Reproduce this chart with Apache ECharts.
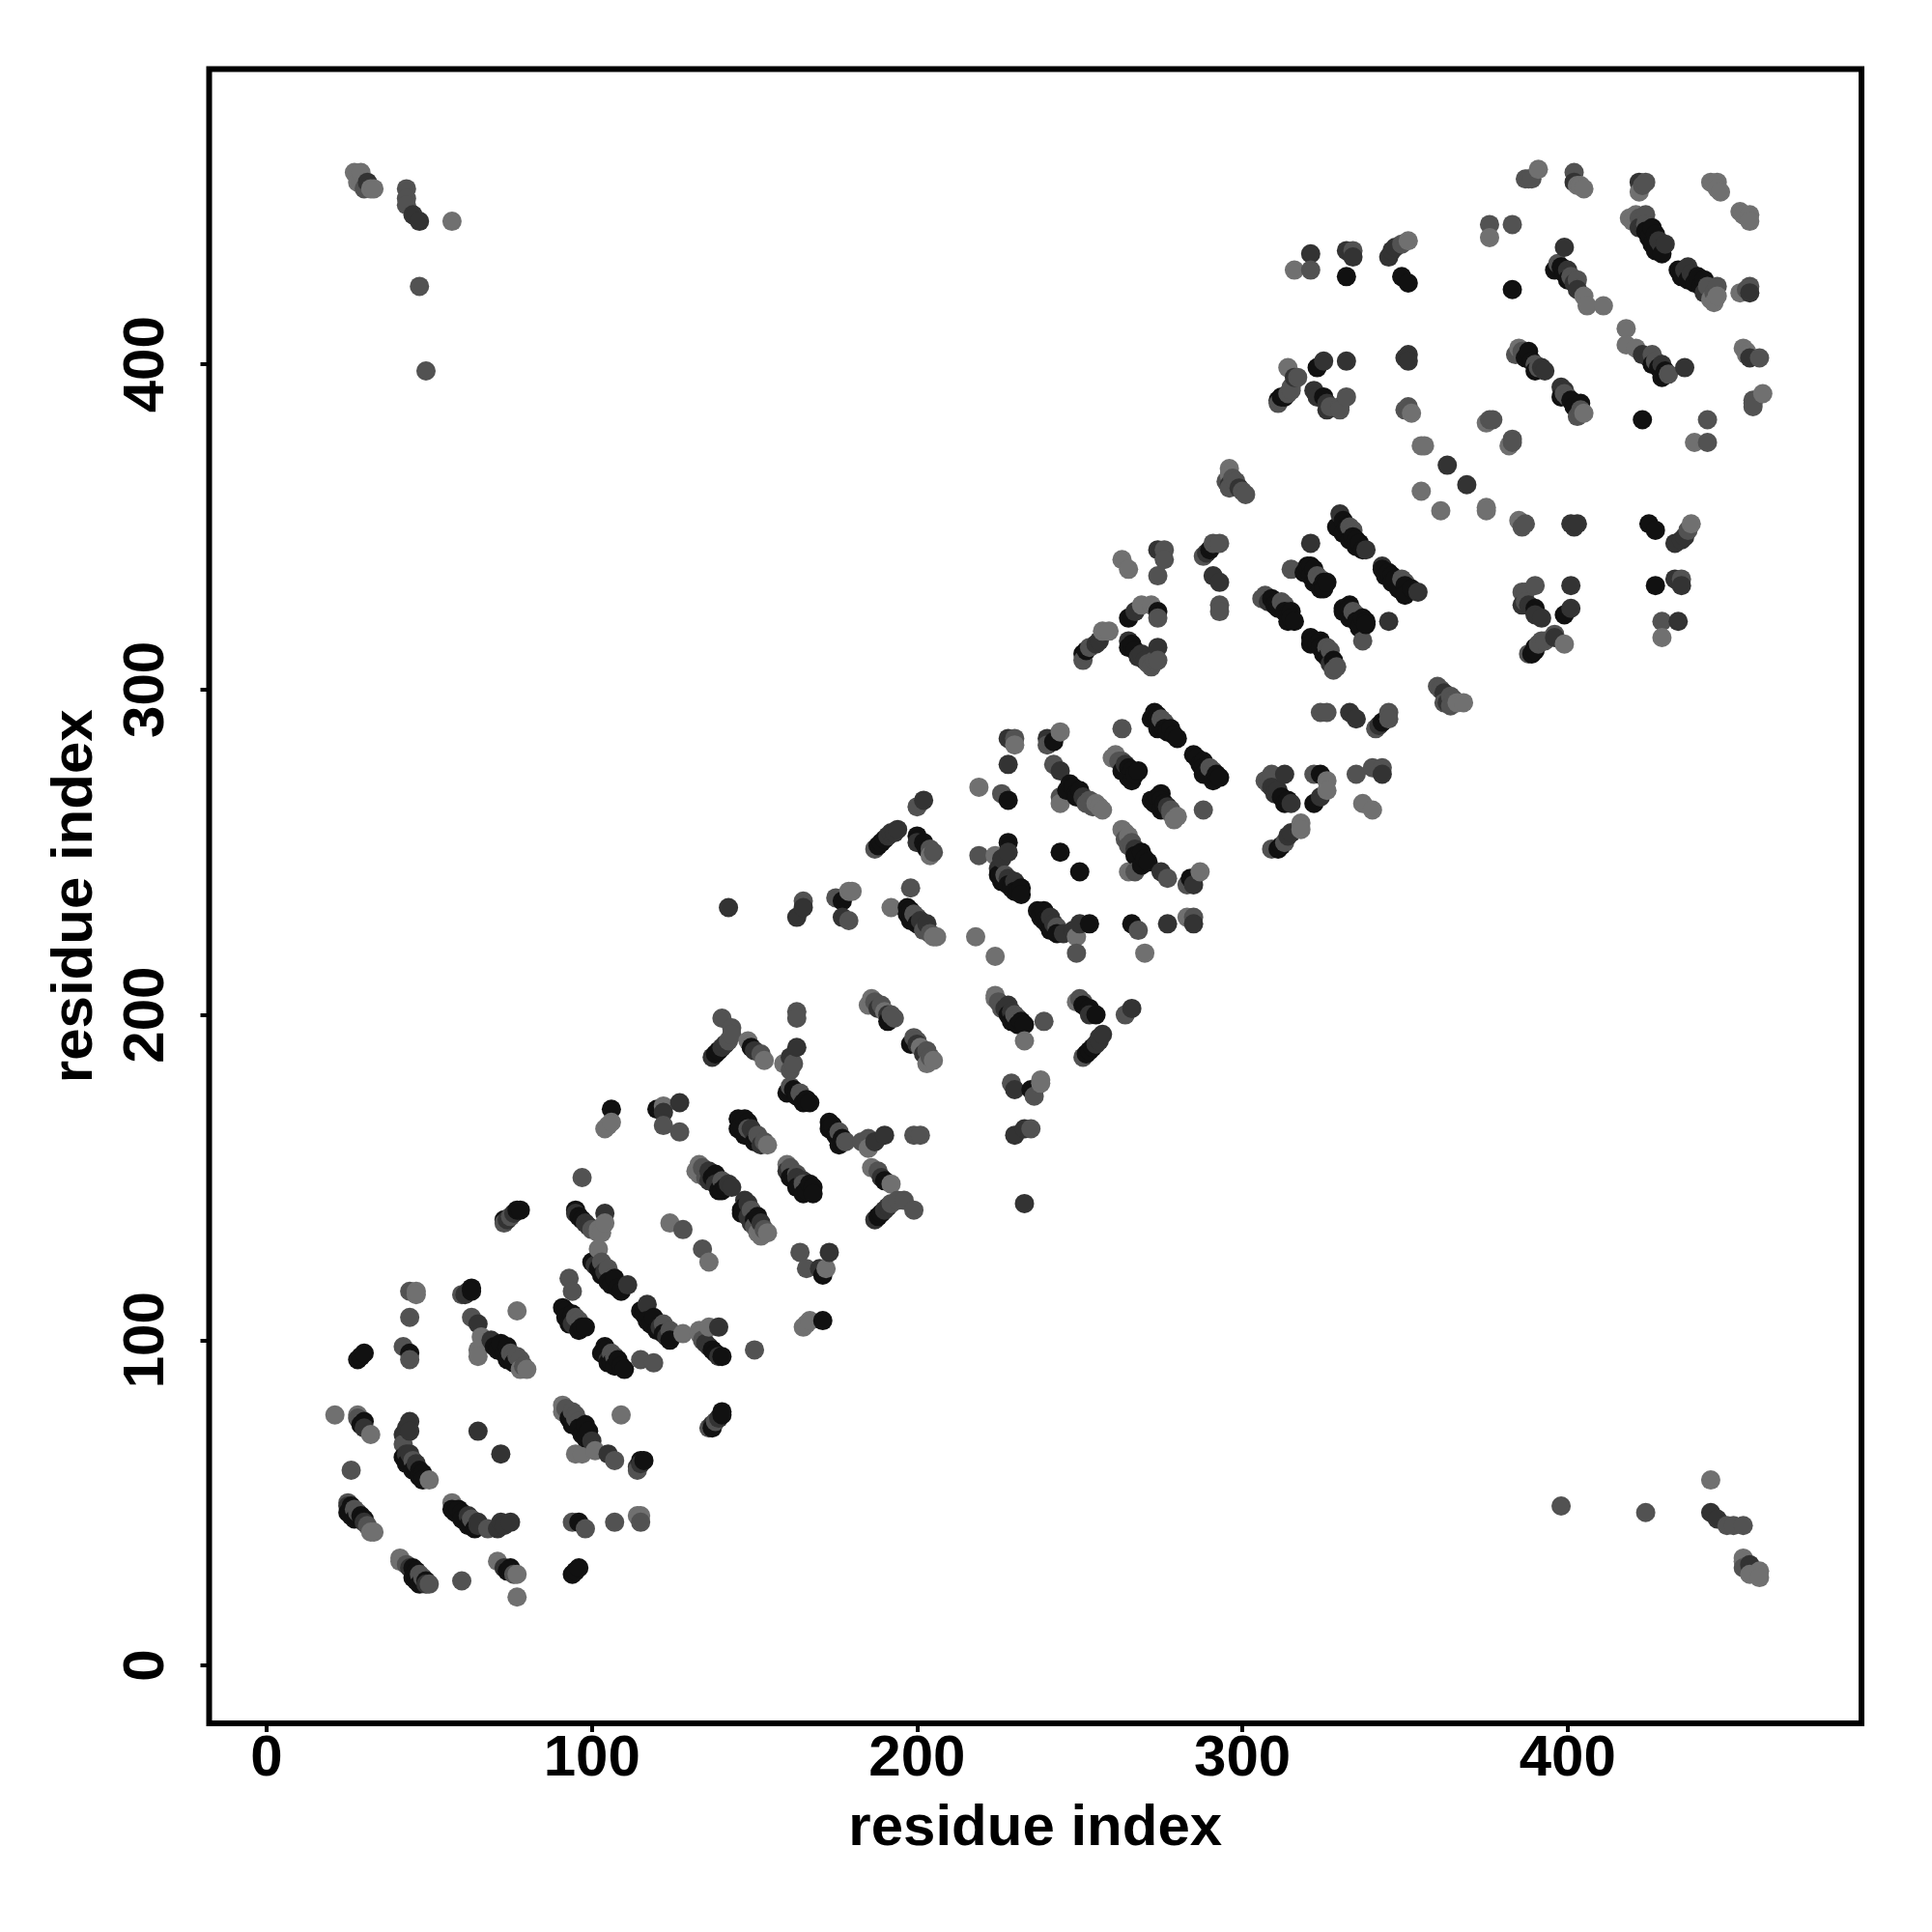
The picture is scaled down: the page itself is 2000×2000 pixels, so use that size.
<!DOCTYPE html>
<html>
<head>
<meta charset="utf-8">
<script src="https://cdn.jsdelivr.net/npm/echarts@6/dist/echarts.min.js"></script>
<style>html,body{margin:0;padding:0;background:#fff}#c{width:2000px;height:2000px}</style>
</head>
<body>
<div id="c"></div>
<script>
// Contacts as [residue i, residue j, score]; the map is symmetric.
// score: 4 strongest (near black) .. 1 weakest (mid grey)
const contactsA = [
[97,150,2],[73,136,2],[73,137,4],[74,137,3],[75,138,2],[76,139,3],[77,140,4],[78,140,4],
[95,140,4],[95,139,3],[96,138,4],[97,137,4],[98,136,3],[99,135,3],[100,134,2],[102,134,1],[103,133,1],[102,133,1],[104,139,3],[104,136,1],
[124,136,1],[128,134,2],
[102,128,1],[100,124,4],[101,123,3],[102,122,4],[103,124,2],[103,120,4],[104,121,3],[105,122,2],[105,118,4],[106,117,4],[107,119,4],[108,116,4],[109,115,4],[111,117,3],
[93,119,2],[94,115,2],
[91,110,4],[92,109,4],[92,107,4],[93,106,4],[93,105,4],[94,108,4],[94,105,3],[95,107,2],[96,106,2],[96,103,4],[97,104,4],[98,104,4],
[44,115,2],[46,115,1],[46,114,1],[44,107,2],[60,114,2],[61,114,3],[62,115,3],[63,115,4],[63,116,4],[63,107,2],[65,105,3],[77,109,1],
[66,101,1],[65,97,1],[65,95,1],[69,100,3],[70,98,4],[71,97,4],[72,99,4],[73,96,4],[74,98,4],[75,96,2],[74,94,4],[76,95,2],[77,95,2],[76,93,4],[78,94,2],[78,91,1],[80,91,1],[79,92,2],
[42,98,2],[44,96,4],[44,94,2],[30,96,4],[28,94,4],[29,95,4],
[21,77,1],[28,77,1],[28,76,2],[29,74,4],[30,75,4],[30,73,3],[32,71,1],
[44,75,3],[43,73,3],[42,71,3],[44,72,3],[42,68,2],[43,65,3],[42,64,4],[43,62,4],[44,65,3],[45,63,2],[45,60,4],[46,62,3],[47,60,4],[47,58,4],[48,59,4],[48,57,4],[50,57,1],
[65,72,3],[26,60,2],
[25,50,2],[25,49,3],[26,49,4],[25,47,4],[27,48,2],[26,46,4],[28,47,2],[27,45,4],[29,46,4],[30,44,3],[30,45,4],[31,43,2],[32,41,1],[33,41,1]
];
const contactsB = [
[142,233,3],[165,235,2],[165,233,3],[163,230,3],[175,236,2],[177,235,4],[179,238,1],[180,238,1],[177,230,3],[179,229,2],[192,233,1],[198,239,2],
[197,233,4],[198,232,4],[197,231,4],[199,231,2],[198,229,4],[200,230,2],[200,228,4],[201,229,3],[202,227,3],[203,228,3],[202,226,2],[204,225,2],[205,224,1],[206,224,1],
[187,251,2],[188,252,4],[189,253,4],[190,254,4],[191,255,3],[192,256,3],[193,256,3],[194,257,3],
[200,255,4],[200,253,3],[202,253,4],[203,251,4],[204,251,2],[204,249,1],[205,250,2],
[219,249,2],[224,249,1],[226,248,3],[228,253,4],[228,250,3],
[225,245,3],[225,243,4],[226,241,4],[227,243,2],[228,242,3],[228,240,4],[229,239,4],[230,241,3],[230,238,4],[231,238,4],[232,239,4],[232,237,4],
[218,224,1],
[186,205,1],[185,203,1],[187,204,2],[188,202,3],[189,203,2],[190,201,1],[191,200,3],[191,198,4],[192,200,2],[193,199,2],
[137,187,3],[138,188,4],[139,189,4],[140,190,3],[141,191,3],[142,192,2],[143,196,2],[143,194,2],[140,199,2],
[148,192,1],[149,190,4],[150,189,3],[152,188,2],[153,186,1],
[163,201,2],[163,199,2],[163,190,3],[161,187,3],[159,185,1],[161,183,2],[162,185,2],
[161,178,2],[160,176,4],[162,177,4],[163,175,4],[164,176,2],[165,173,4],[166,174,4],[167,173,4],
[120,171,4],[122,170,3],[122,172,1],[127,173,3],[122,166,2],[127,164,2],
[106,171,4],[104,165,1],[106,167,1],[105,166,1],
[145,168,4],[147,168,4],[146,166,4],[145,165,4],[148,167,4],[148,165,2],[147,163,4],[149,165,3],[150,163,3],[150,161,4],[151,163,2],[152,160,3],[153,161,2],[154,160,1],
[133,154,1],[132,152,1],[133,151,1],[134,153,2],[135,150,2],[136,152,3],[137,150,4],[136,149,3],[138,151,4],[138,148,3],[139,146,4],[140,149,2],[141,147,4],[142,148,3],[140,146,4],[143,147,3]
];
const contactsC = [
[263,340,1],[265,337,1],[274,343,3],[276,343,2],[276,340,2],[274,335,2],
[288,341,2],[289,342,3],[290,343,4],[291,345,2],[293,345,2],[291,335,3],[293,333,3],[293,326,2],[293,324,2],
[265,322,4],[267,324,3],[269,326,1],[272,326,1],[274,324,4],[274,322,2],
[251,309,2],[251,311,4],[252,312,4],[253,313,2],[255,314,3],[256,315,3],[257,318,1],[259,318,1],
[265,315,3],[265,313,4],[266,314,4],[267,312,4],[268,310,3],[269,311,3],[270,309,3],[271,308,2],[272,307,2],[273,309,2],[274,309,2],[274,313,3],
[273,293,4],[272,291,4],[274,292,4],[275,291,2],[276,290,2],[274,288,4],[276,288,4],[277,287,4],[278,288,4],[279,286,4],[280,285,4],
[263,288,2],
[260,279,1],[261,280,1],[262,278,2],[263,278,2],[263,275,4],[264,277,3],[265,276,4],[265,273,4],[266,272,4],[266,275,4],[267,274,4],[268,275,4],
[219,270,1],[226,268,2],[228,266,4],[228,285,3],[230,285,2],[230,283,1],[228,277,3],
[240,283,2],[240,285,3],[242,284,4],[244,287,1],[242,277,2],[244,275,3],
[244,267,2],[244,265,1],[247,271,4],[246,269,4],[248,270,4],[249,268,4],[249,267,4],[250,269,4],[251,267,3],[252,265,2],[253,266,2],[254,264,2],[255,265,1],[256,264,1],[257,263,1],
[244,250,4],[202,266,3],[200,264,2]
];
const contactsD = [
[321,434,3],[316,429,1],[321,429,2],[332,427,4],[332,435,3],[334,435,2],[334,433,3],
[345,433,3],[346,435,3],[347,436,3],[349,437,2],[351,438,1],[349,427,4],[351,425,4],
[314,399,1],[317,396,2],[316,396,3],[315,392,2],[314,391,2],[311,388,2],[311,389,4],[312,390,4],[313,390,4],[315,393,2],
[323,399,4],[325,401,3],[332,401,3],
[322,392,3],[323,390,3],[325,390,4],[326,388,3],[327,387,2],[326,386,3],[330,387,2],[330,386,2],[332,390,2],
[350,402,3],[351,403,3],[351,401,3],[350,386,2],[351,387,2],[352,385,1],
[355,375,1],[356,375,1],[363,369,3],[355,361,1],
[375,382,1],[376,383,2],[377,383,2],
[385,405,1],[384,403,2],[386,404,2],[387,402,4],[388,404,4],[389,401,4],[390,400,2],[390,398,4],[391,399,2],[392,399,3],[393,398,3],
[399,436,3],[397,431,2],[396,429,4],[398,430,4],[399,428,4],[400,429,3],[400,426,4],[401,427,2],[402,425,3],[403,426,2],[403,423,3],[405,421,1],[406,418,1],[411,418,1],[383,423,4],
[330,354,3],[329,350,4],[331,352,4],[332,350,4],[331,348,4],[333,350,2],[334,349,2],[333,346,4],[334,347,4],[335,346,4],[336,345,4],[335,344,4],[337,343,4],[338,343,3],
[321,345,3],
[315,337,2],[320,338,4],[321,338,4],[319,336,4],[321,335,4],[322,337,4],[323,335,2],[322,333,4],[324,334,2],[324,331,4],[325,333,4],[326,333,4],[325,331,4],
[307,329,2],[306,328,2],[308,327,3],[309,328,4],[310,326,4],[311,325,4],[312,327,2],[313,324,4],[313,326,2],[314,323,4],[315,322,4],[316,321,4],[314,321,4],[315,324,4],
[296,368,1],[296,366,1],[295,364,2],[296,362,2],[297,365,2],[298,364,2],[299,362,3],[300,361,2],[301,360,2],[296,363,3]
];
const contactsE = [
[387,457,2],[389,457,2],[391,460,1],[388,457,2],
[402,459,2],[402,456,3],[403,455,1],[404,455,1],[405,454,1],
[422,456,3],[424,456,2],[422,453,1],[423,455,2],
[444,456,1],[446,456,1],[446,454,1],[447,453,1],
[376,443,2],[376,439,1],[383,443,2],
[419,445,1],[421,446,1],[420,444,1],[422,445,2],[424,446,2],[424,443,2],[422,442,3],[424,441,4],[426,442,4],[425,439,4],[427,440,4],[426,437,4],[428,438,3],[427,435,4],[429,434,4],[430,437,3],[429,436,3]
];
const contactsF = [
[27,459,1],[29,459,1],[28,456,1],[31,456,3],[30,454,2],[32,454,1],[33,454,1],
[43,454,2],[43,451,2],[43,449,2],[45,446,3],[47,444,3],[57,444,1],[47,424,2],[49,398,2]
];
const tickValues = [0, 100, 200, 300, 400];
const axisTitle = 'residue index';
const scoreGreys = { 1: '#707070', 2: '#525252', 3: '#333333', 4: '#111111' };

const font = '"Liberation Sans", Arial, sans-serif';
const contacts = [].concat(contactsA, contactsB, contactsC, contactsD, contactsE, contactsF);
const points = [];
contacts.forEach(function (c) {
  points.push([c[0], c[1], c[2]]);
  points.push([c[1], c[0], c[2]]);
});
points.sort(function (p, q) { return p[0] - q[0] || q[1] - p[1]; });

const chart = echarts.init(document.getElementById('c'), null, { renderer: 'canvas', width: 2000, height: 2000 });
function axis(extra) {
  return Object.assign({
    type: 'value',
    name: axisTitle,
    nameLocation: 'middle',
    nameTextStyle: { fontFamily: font, fontWeight: 'bold', fontSize: 60, color: '#000' },
    splitLine: { show: false },
    axisLine: { show: false, onZero: false },
    axisTick: { show: true, customValues: tickValues, length: 9, lineStyle: { color: '#000', width: 4 } },
    axisLabel: { show: true, customValues: tickValues, fontFamily: font, fontWeight: 'bold', fontSize: 60, color: '#000' }
  }, extra);
}
const xa = axis({ min: -17.67, max: 490.35, nameGap: 79 });
xa.axisLabel.margin = 7;
const ya = axis({ min: -17.82, max: 490.8, nameGap: 108 });
ya.axisLabel.rotate = 90;
ya.axisLabel.margin = 64;
ya.axisLabel.verticalAlign = 'middle';
ya.axisLabel.align = 'center';

chart.setOption({
  animation: false,
  backgroundColor: '#fff',
  grid: { show: true, left: 216.5, top: 71.5, width: 1710.5, height: 1712.5, borderColor: '#000', borderWidth: 6, backgroundColor: 'transparent' },
  xAxis: xa,
  yAxis: ya,
  series: [{
    type: 'scatter',
    data: points,
    symbol: 'circle',
    symbolSize: 20,
    itemStyle: { opacity: 1, color: function (p) { return scoreGreys[p.value[2]]; } },
    emphasis: { disabled: true },
    silent: true,
    z: 5
  }]
});
</script>
</body>
</html>
